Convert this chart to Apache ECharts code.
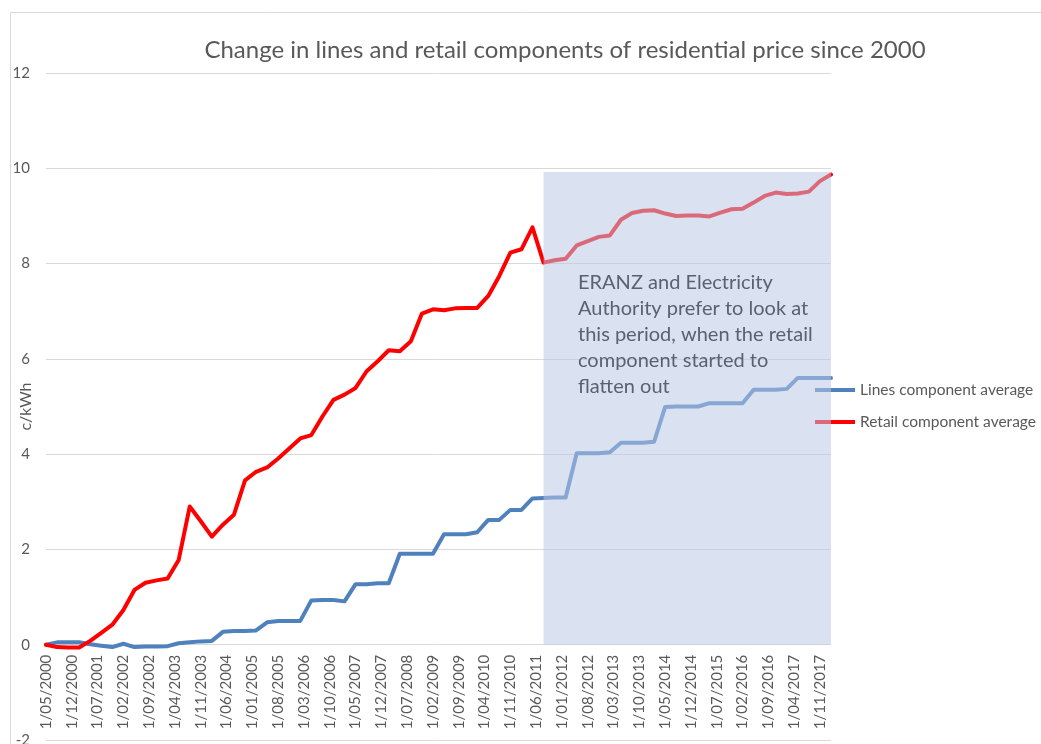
<!DOCTYPE html>
<html>
<head>
<meta charset="utf-8">
<script src="https://cdn.jsdelivr.net/npm/echarts@6/dist/echarts.min.js"></script>
<style>
  html, body { margin: 0; padding: 0; background: #fff; }
  #chart { width: 1041px; height: 744px; }
</style>
</head>
<body>
<div id="chart"></div>
<script>
// monthly axis, May 2000 .. Feb 2018, labelled "1/MM/YYYY"
var months = [];
for (var i = 0; i < 214; i++) {
  var m = 4 + i;
  var mm = (m % 12) + 1;
  months.push("1/" + (mm < 10 ? "0" + mm : mm) + "/" + (2000 + Math.floor(m / 12)));
}

// quarterly readings (May 2000, Aug 2000, ... Feb 2018), c/kWh change since 2000
var linesAvg = [
  0, 0.05, 0.05, 0.05, 0.01, -0.02, -0.05, 0.02, -0.05, -0.04,
  -0.04, -0.03, 0.03, 0.05, 0.07, 0.08, 0.27, 0.29, 0.29, 0.3,
  0.47, 0.5, 0.5, 0.5, 0.93, 0.94, 0.94, 0.91, 1.27, 1.27,
  1.29, 1.29, 1.91, 1.91, 1.91, 1.91, 2.32, 2.32, 2.32, 2.36,
  2.62, 2.62, 2.83, 2.83, 3.07, 3.08, 3.09, 3.09, 4.02, 4.02,
  4.02, 4.04, 4.24, 4.24, 4.24, 4.26, 4.99, 5.0, 5.0, 5.0,
  5.07, 5.07, 5.07, 5.07, 5.35, 5.35, 5.35, 5.37, 5.6, 5.6,
  5.6, 5.6
];
var retailAvg = [
  0, -0.05, -0.06, -0.06, 0.08, 0.25, 0.42, 0.73, 1.15, 1.3,
  1.35, 1.39, 1.78, 2.9, 2.59, 2.27, 2.52, 2.73, 3.45, 3.63,
  3.72, 3.91, 4.12, 4.33, 4.4, 4.79, 5.14, 5.25, 5.39, 5.74,
  5.95, 6.18, 6.16, 6.37, 6.95, 7.04, 7.02, 7.06, 7.07, 7.07,
  7.32, 7.74, 8.23, 8.3, 8.76, 8.02, 8.07, 8.1, 8.38, 8.47,
  8.56, 8.59, 8.92, 9.06, 9.11, 9.12, 9.05, 9.0, 9.01, 9.01,
  8.99, 9.07, 9.14, 9.15, 9.28, 9.42, 9.49, 9.46, 9.47, 9.51,
  9.73, 9.87
];
var seriesNames = ["Lines component average", "Retail component average"];
var periodStart = "1/08/2011";
var periodEnd = "1/02/2018";
var periodTop = 9.92;
var noteLines = [
  "ERANZ and Electricity",
  "Authority prefer to look at",
  "this period, when the retail",
  "component started to",
  "flatten out"
];
var yMin = -2, yMax = 12, yStep = 2;

function toQuarterPoints(arr) {
  return arr.map(function (v, k) { return [k * 3, v]; });
}

var font = "Lato, 'Open Sans', sans-serif";
var grey = "#595959";
var gridTop = 73, gridBottom = 4;
var gridHeight = 744 - gridTop - gridBottom;
// x labels sit on the zero line, like the Excel original
var zeroOffset = -gridHeight * (0 - yMin) / (yMax - yMin);

var chart = echarts.init(document.getElementById("chart"));
chart.setOption({
  animation: false,
  backgroundColor: "#fff",
  textStyle: { fontFamily: font },
  title: {
    text: "Change in lines and retail components of residential price since 2000",
    left: 560,
    top: 33,
    textAlign: "center",
    textStyle: { fontFamily: font, fontSize: 24, fontWeight: "normal", color: grey }
  },
  grid: { left: 46, right: 210, top: gridTop, bottom: gridBottom, containLabel: false, outerBoundsMode: "none" },
  legend: {
    data: seriesNames,
    orient: "vertical",
    left: 815,
    top: 382,
    padding: 0,
    itemGap: 16,
    icon: "rect",
    itemWidth: 40,
    itemHeight: 4,
    textStyle: { fontFamily: font, fontSize: 15.5, color: grey }
  },
  xAxis: {
    type: "category",
    data: months,
    boundaryGap: false,
    offset: zeroOffset,
    axisLine: { show: false, onZero: false },
    axisTick: { show: false },
    axisLabel: {
      interval: 6,
      rotate: 90,
      margin: 10,
      fontSize: 15,
      color: grey,
      fontFamily: font
    },
    splitLine: { show: false }
  },
  yAxis: {
    type: "value",
    min: yMin,
    max: yMax,
    interval: yStep,
    name: "c/kWh",
    nameLocation: "middle",
    nameGap: 12,
    nameRotate: 90,
    nameMoveOverlap: false,
    nameTextStyle: { fontFamily: font, fontSize: 16, color: grey },
    axisLine: { show: false },
    axisTick: { show: false },
    axisLabel: { fontSize: 15, color: grey, margin: 16, fontFamily: font },
    splitLine: { lineStyle: { color: "#d9d9d9", width: 1 } }
  },
  series: [
    {
      name: seriesNames[0],
      type: "line",
      data: toQuarterPoints(linesAvg),
      showSymbol: false,
      symbol: "none",
      color: "#4f81bd",
      lineStyle: { color: "#4f81bd", width: 4, cap: "round", join: "round" },
      z: 3,
      markArea: {
        silent: true,
        z: 10,
        label: { show: false },
        itemStyle: { color: "rgba(185,201,228,0.53)" },
        data: [[
          { xAxis: periodStart, yAxis: 0 },
          { xAxis: periodEnd, yAxis: periodTop }
        ]]
      }
    },
    {
      name: seriesNames[1],
      type: "line",
      data: toQuarterPoints(retailAvg),
      showSymbol: false,
      symbol: "none",
      color: "#ff0000",
      lineStyle: { color: "#ff0000", width: 4, cap: "round", join: "round" },
      z: 3
    }
  ],
  graphic: [
    {
      type: "rect",
      z: -10,
      silent: true,
      shape: { x: 10.5, y: 12.5, width: 1100, height: 800 },
      style: { fill: null, stroke: "#d9d9d9", lineWidth: 1 }
    },
    {
      type: "text",
      z: 100,
      left: 578,
      top: 270,
      silent: true,
      style: {
        text: noteLines.join("\n"),
        font: "20px " + font,
        lineHeight: 26,
        fill: "#5a6170"
      }
    }
  ]
});
</script>
</body>
</html>
